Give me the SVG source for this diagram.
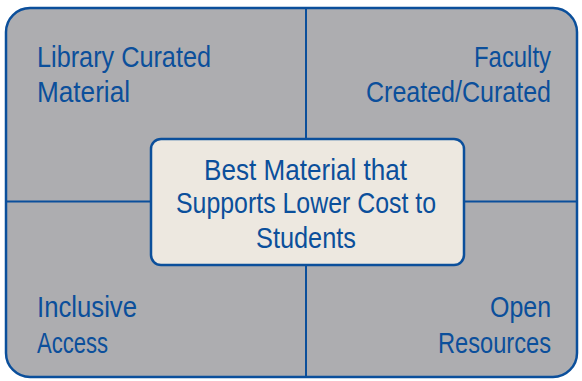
<svg xmlns="http://www.w3.org/2000/svg" width="582" height="381" viewBox="0 0 582 381">
<style>
.t{font-family:"Liberation Sans Narrow","Liberation Sans",Arial,sans-serif;font-size:30px;fill:#0b4f9b}
.ln{stroke:#0b4f9b;stroke-width:2;fill:none}
</style>
<rect x="0" y="0" width="582" height="381" fill="#ffffff"/>
<g id="frame">
<rect x="6" y="8" width="571" height="369" rx="24" ry="24" fill="#adadb0" stroke="#0b4f9b" stroke-width="2.5"/>
</g>
<g id="connectors">
<line class="ln" x1="306" y1="8" x2="306" y2="377"/>
<line class="ln" x1="6" y1="201.5" x2="577" y2="201.5"/>
</g>
<g id="q1"><text class="t" x="37" y="67" textLength="174" lengthAdjust="spacingAndGlyphs">Library Curated</text><text class="t" x="37" y="102" textLength="93" lengthAdjust="spacingAndGlyphs">Material</text></g>
<g id="q2"><text class="t" x="474" y="67" textLength="77" lengthAdjust="spacingAndGlyphs">Faculty</text><text class="t" x="366" y="102" textLength="185" lengthAdjust="spacingAndGlyphs">Created/Curated</text></g>
<g id="q3"><text class="t" x="37" y="317" textLength="100" lengthAdjust="spacingAndGlyphs">Inclusive</text><text class="t" x="37" y="353" textLength="71" lengthAdjust="spacingAndGlyphs">Access</text></g>
<g id="q4"><text class="t" x="490" y="317" textLength="61" lengthAdjust="spacingAndGlyphs">Open</text><text class="t" x="438" y="353" textLength="113" lengthAdjust="spacingAndGlyphs">Resources</text></g>
<g id="center">
<rect x="151" y="139" width="313" height="126" rx="10" ry="10" fill="#ede8e0" stroke="#0b4f9b" stroke-width="2.5"/>
<text class="t" x="204" y="180" textLength="203" lengthAdjust="spacingAndGlyphs">Best Material that</text>
<text class="t" x="176" y="213" textLength="260" lengthAdjust="spacingAndGlyphs">Supports Lower Cost to</text>
<text class="t" x="256" y="248" textLength="100" lengthAdjust="spacingAndGlyphs">Students</text>
</g>
</svg>
